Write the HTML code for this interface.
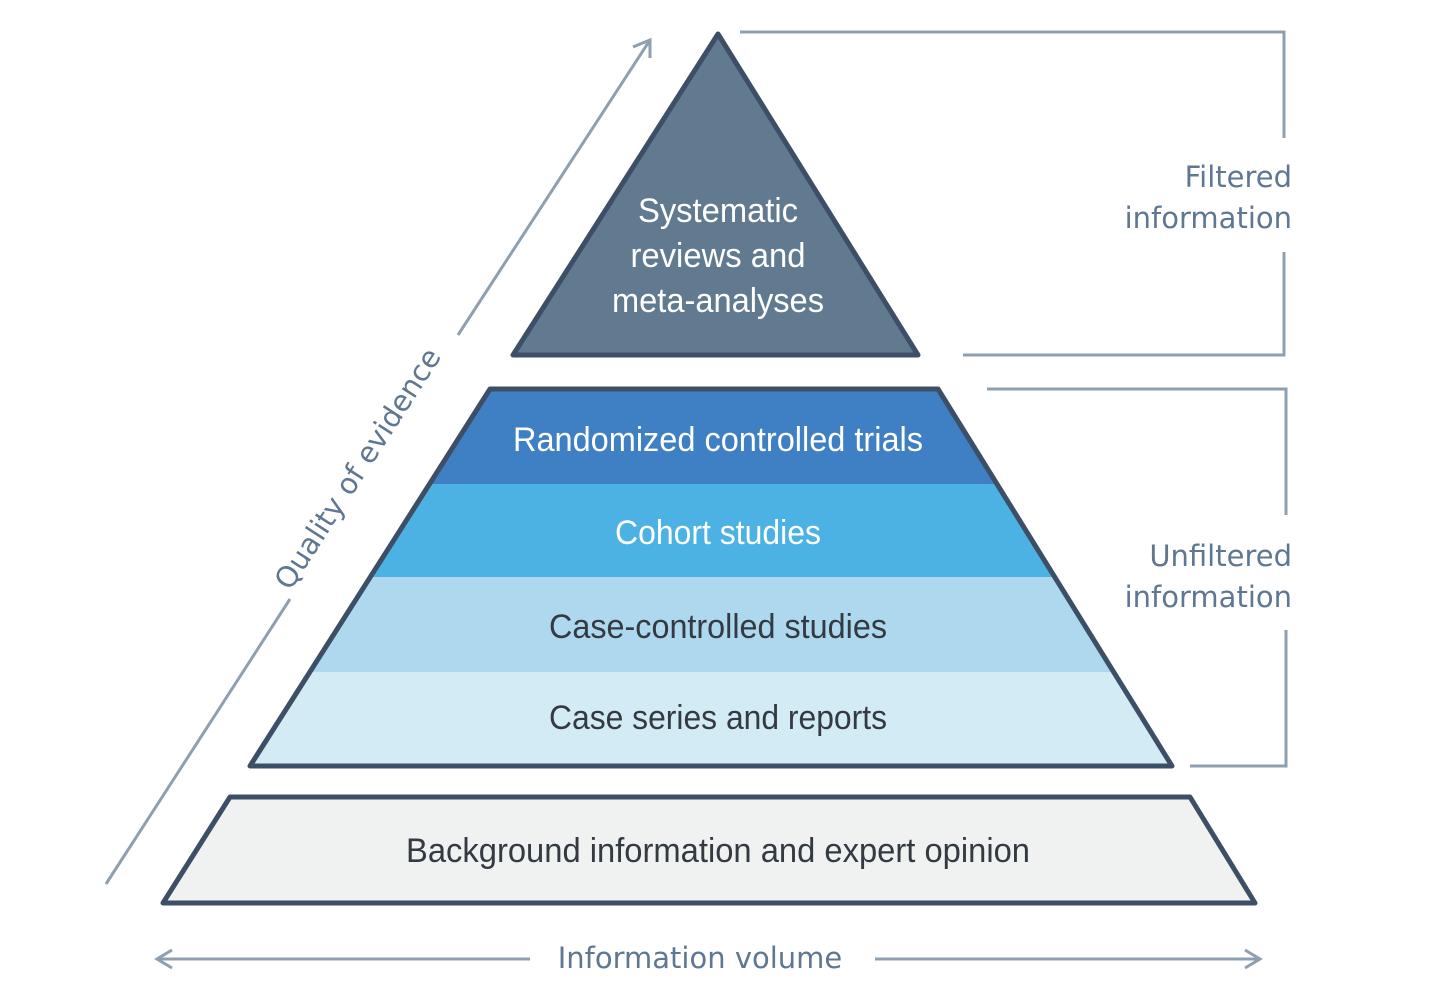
<!DOCTYPE html>
<html><head><meta charset="utf-8"><style>
html,body{margin:0;padding:0;background:#fff;}
svg{display:block;}
.c{font-family:"Liberation Sans Narrow","Liberation Sans",sans-serif;font-size:34px;text-anchor:middle;}
.l{font-family:"DejaVu Sans","Liberation Sans",sans-serif;fill:#5f7791;font-size:29px;}
</style></head><body>
<svg width="1456" height="993" viewBox="0 0 1456 993" xmlns="http://www.w3.org/2000/svg">
<defs>
<clipPath id="trap"><polygon points="490,389 938,389 1172,766 250,766"/></clipPath>
</defs>
<!-- top triangle -->
<polygon points="718,34 918,355 513,355" fill="#627a90" stroke="#3d4f66" stroke-width="5" stroke-linejoin="round"/>
<text class="c" fill="#fff" x="718" y="222" textLength="160" lengthAdjust="spacingAndGlyphs">Systematic</text>
<text class="c" fill="#fff" x="718" y="267" textLength="175" lengthAdjust="spacingAndGlyphs">reviews and</text>
<text class="c" fill="#fff" x="718" y="312" textLength="212" lengthAdjust="spacingAndGlyphs">meta-analyses</text>
<!-- middle trapezoid -->
<g clip-path="url(#trap)">
<rect x="240" y="385" width="950" height="100" fill="#3f7fc4"/>
<rect x="240" y="484" width="950" height="93" fill="#4cb2e4"/>
<rect x="240" y="577" width="950" height="95" fill="#add8ee"/>
<rect x="240" y="672" width="950" height="100" fill="#d3ebf4"/>
</g>
<polygon points="490,389 938,389 1172,766 250,766" fill="none" stroke="#3d4f66" stroke-width="5" stroke-linejoin="round"/>
<text class="c" fill="#fff" x="718" y="451" textLength="410" lengthAdjust="spacingAndGlyphs">Randomized controlled trials</text>
<text class="c" fill="#fff" x="718" y="544" textLength="206" lengthAdjust="spacingAndGlyphs">Cohort studies</text>
<text class="c" fill="#333a42" x="718" y="638" textLength="338" lengthAdjust="spacingAndGlyphs">Case-controlled studies</text>
<text class="c" fill="#333a42" x="718" y="729" textLength="338" lengthAdjust="spacingAndGlyphs">Case series and reports</text>
<!-- bottom trapezoid -->
<polygon points="230,797 1190,797 1255,903 163,903" fill="#f0f2f1" stroke="#3d4f66" stroke-width="5" stroke-linejoin="round"/>
<text class="c" fill="#333a42" x="718" y="862" textLength="624" lengthAdjust="spacingAndGlyphs">Background information and expert opinion</text>
<!-- brackets -->
<g fill="none" stroke="#8ea0b0" stroke-width="3">
<polyline points="740,32 1284,32 1284,138"/>
<polyline points="1284,252 1284,355 963,355"/>
<polyline points="987,389 1286,389 1286,515"/>
<polyline points="1286,630 1286,766 1190,766"/>
<!-- diagonal arrow -->
<line x1="106" y1="884" x2="290" y2="599"/>
<line x1="458" y1="335" x2="650" y2="40"/>
<polyline points="633,47 650,40 650,58"/>
<!-- horizontal arrow -->
<line x1="157" y1="959" x2="530" y2="959"/>
<line x1="875" y1="959" x2="1260" y2="959"/>
<polyline points="172,950 157,959 172,968"/>
<polyline points="1245,950 1260,959 1245,968"/>
</g>
<text class="l" x="1292" y="187" text-anchor="end">Filtered</text>
<text class="l" x="1292" y="228" text-anchor="end">information</text>
<text class="l" x="1292" y="566" text-anchor="end">Unfiltered</text>
<text class="l" x="1292" y="607" text-anchor="end">information</text>
<text class="l" x="700" y="968" text-anchor="middle">Information volume</text>
<text class="l" x="0" y="0" text-anchor="middle" transform="translate(366,474) rotate(-57.2)" textLength="280" lengthAdjust="spacingAndGlyphs">Quality of evidence</text>
</svg>
</body></html>
